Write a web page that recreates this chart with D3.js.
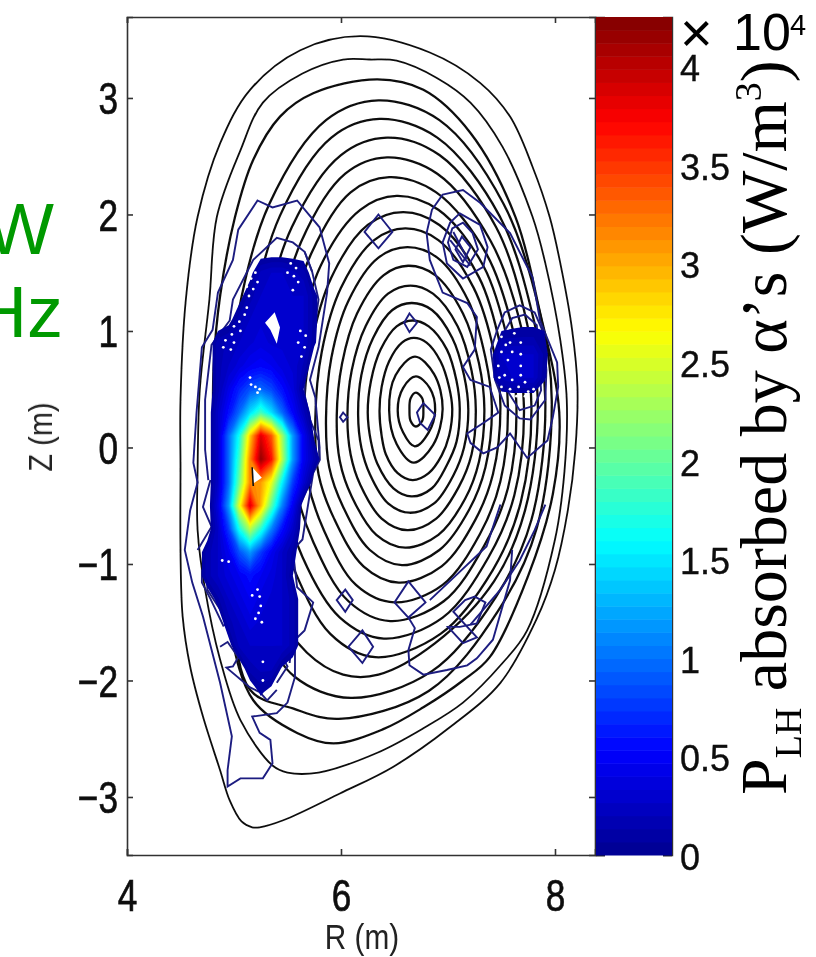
<!DOCTYPE html>
<html>
<head>
<meta charset="utf-8">
<script src="https://cdn.jsdelivr.net/npm/d3@7"></script>
<style>
  html, body { margin: 0; padding: 0; background: #fff; overflow: hidden; }
  text { font-family: "Liberation Sans", sans-serif; }
</style>
</head>
<body>
<div id="chart"></div>
<script>
// tick labels
var rTicks = [4, 6, 8];
var zTicks = [-3, -2, -1, 0, 1, 2, 3];
var cbarTicks = [0, 0.5, 1, 1.5, 2, 2.5, 3, 3.5, 4];
var cbarLabels = ["0", "0.5", "1", "1.5", "2", "2.5", "3", "3.5", "4"];

// flux surfaces [R, Z], outermost first
var flux1 = [[4.50,-.19],[4.50,.41],[4.55,1.27],[4.66,1.98],[4.87,2.61],[5.15,3.07],[5.62,3.41],[6.18,3.53],[6.83,3.39],[7.30,3.13],[7.58,2.84],[7.79,2.41],[7.95,1.98],[8.05,1.58],[8.16,1.01],[8.21,.52],[8.19,-.02],[8.12,-.54],[8.00,-1.05],[7.83,-1.47],[7.49,-2.02],[7.02,-2.40],[6.49,-2.74],[5.99,-2.97],[5.46,-3.20],[5.24,-3.26],[5.17,-3.26],[5.07,-3.21],[4.96,-3.03],[4.87,-2.77],[4.71,-2.31],[4.59,-1.88],[4.52,-1.45],[4.50,-.88]];
var flux2 = [[4.66,-.19],[4.68,.49],[4.77,1.27],[4.84,1.98],[5.06,2.55],[5.27,2.96],[5.64,3.21],[6.02,3.33],[6.27,3.33],[6.52,3.32],[6.90,3.17],[7.21,2.96],[7.51,2.58],[7.79,1.98],[7.91,1.58],[8.05,.92],[8.11,.41],[8.09,-.19],[8.00,-.79],[7.74,-1.57],[7.51,-1.85],[7.14,-2.19],[6.77,-2.41],[6.34,-2.62],[5.79,-2.79],[5.50,-2.79],[5.36,-2.73],[5.06,-2.34],[4.87,-1.82],[4.73,-1.22],[4.66,-.71]];
var flux3 = [[6.34,3.16],[6.77,3.07],[7.21,2.70],[7.63,1.98],[7.85,1.2],[8.04,.3],[7.98,-.4],[7.75,-1.1],[7.39,-1.80],[7.14,-2.0],[6.77,-2.23],[6.39,-2.42],[5.93,-2.54],[5.59,-2.45],[5.18,-2.17],[4.95,-1.5],[4.85,-.7],[4.81,.0],[4.81,.7],[4.87,1.3],[5.01,1.98],[5.18,2.47],[5.43,2.84],[5.74,3.04]];
var flux4 = [[6.35,2.98],[6.92,2.81],[7.52,2.09],[7.86,1.15],[7.97,.4],[7.83,-.69],[7.47,-1.40],[6.82,-2.09],[5.98,-2.33],[5.55,-2.24],[5.15,-2.08],[4.98,-1.2],[4.94,.2],[5.04,1.15],[5.33,2.09],[5.86,2.81]];
var flux5 = [[6.36,2.82],[6.90,2.66],[7.48,1.99],[7.80,1.10],[7.91,.4],[7.78,-.62],[7.45,-1.28],[6.85,-1.92],[6.09,-2.15],[5.57,-1.97],[5.3,-1.6],[5.1,-.9],[5.07,.25],[5.16,1.10],[5.43,1.99],[5.91,2.66]];
var flux6 = [[6.43,2.66],[6.92,2.51],[7.45,1.89],[7.74,1.06],[7.84,.35],[7.72,-.54],[7.43,-1.15],[6.88,-1.68],[6.35,-1.95],[6.02,-1.95],[5.68,-1.76],[5.35,-1.3],[5.22,-.6],[5.20,.2],[5.28,1.06],[5.54,1.89],[6.0,2.51]];
var flux7 = [[6.43,2.49],[6.90,2.35],[7.40,1.77],[7.69,1.01],[7.78,.35],[7.68,-.47],[7.42,-1.05],[6.93,-1.6],[6.32,-1.80],[5.9,-1.6],[5.54,-1.0],[5.36,-.5],[5.32,.2],[5.40,1.01],[5.63,1.77],[6.04,2.35]];
var flux8 = [[6.45,2.32],[6.89,2.19],[7.36,1.66],[7.62,.96],[7.71,.35],[7.62,-.41],[7.38,-.94],[6.95,-1.46],[6.40,-1.64],[5.99,-1.46],[5.64,-.94],[5.47,-.41],[5.43,.2],[5.50,.96],[5.72,1.66],[6.09,2.19]];
var flux9 = [[6.52,2.16],[6.91,2.04],[7.33,1.56],[7.56,.91],[7.64,.35],[7.56,-.35],[7.34,-.84],[6.96,-1.32],[6.46,-1.49],[6.07,-1.32],[5.74,-.81],[5.58,-.35],[5.54,.22],[5.61,.91],[5.81,1.56],[6.18,2.04]];
var flux10 = [[6.58,2.02],[6.92,1.91],[7.29,1.46],[7.49,.87],[7.56,.35],[7.49,-.29],[7.30,-.74],[6.95,-1.18],[6.50,-1.33],[6.14,-1.18],[5.84,-.71],[5.69,-.29],[5.65,.23],[5.72,.87],[5.91,1.46],[6.25,1.91]];
var flux11 = [[6.60,1.88],[6.91,1.78],[7.24,1.37],[7.43,.82],[7.49,.35],[7.42,-.23],[7.25,-.63],[6.94,-1.02],[6.54,-1.16],[6.21,-1.02],[5.93,-.60],[5.79,-.23],[5.76,.24],[5.82,.82],[6.0,1.37],[6.31,1.78]];
var flux12 = [[6.62,1.72],[6.90,1.63],[7.19,1.26],[7.35,.77],[7.41,.35],[7.35,-.17],[7.20,-.53],[6.92,-.88],[6.57,-1.01],[6.27,-.88],[6.02,-.51],[5.89,-.17],[5.86,.25],[5.91,.77],[6.07,1.26],[6.35,1.63]];
var flux13 = [[6.63,1.56],[6.88,1.48],[7.14,1.15],[7.29,.72],[7.34,.33],[7.29,-.12],[7.16,-.44],[6.91,-.75],[6.60,-.86],[6.33,-.75],[6.10,-.42],[5.99,-.12],[5.96,.26],[6.01,.72],[6.15,1.15],[6.40,1.48]];
var flux14 = [[6.65,1.39],[6.86,1.32],[7.09,1.04],[7.22,.66],[7.26,.32],[7.22,-.06],[7.10,-.34],[6.89,-.61],[6.62,-.71],[6.38,-.61],[6.18,-.32],[6.09,-.06],[6.06,.27],[6.10,.66],[6.23,1.04],[6.44,1.32]];
var flux15 = [[6.66,1.24],[6.85,1.18],[7.04,.94],[7.15,.62],[7.19,.32],[7.15,0],[7.05,-.24],[6.87,-.48],[6.64,-.56],[6.44,-.48],[6.27,-.23],[6.19,0],[6.16,.28],[6.19,.62],[6.30,.94],[6.48,1.18]];
var flux16 = [[6.67,1.09],[6.82,1.04],[6.99,.84],[7.08,.57],[7.11,.33],[7.08,.05],[6.99,-.15],[6.85,-.35],[6.66,-.42],[6.49,-.35],[6.34,-.14],[6.28,.05],[6.25,.3],[6.28,.57],[6.37,.84],[6.52,1.04]];
var flux17 = [[6.68,.94],[6.80,.90],[6.93,.74],[7.01,.52],[7.04,.33],[7.01,.10],[6.94,-.07],[6.82,-.22],[6.67,-.28],[6.53,-.22],[6.42,-.06],[6.38,.10],[6.36,.31],[6.38,.52],[6.45,.74],[6.57,.90]];
var flux18 = [[6.69,.78],[6.87,.63],[6.95,.33],[6.86,.02],[6.68,-.13],[6.52,.03],[6.45,.32],[6.51,.62]];
var flux19 = [[6.70,.61],[6.83,.51],[6.88,.32],[6.82,.13],[6.69,.01],[6.58,.13],[6.53,.32],[6.58,.51]];
var flux20 = [[6.70,.47],[6.76,.42],[6.77,.32],[6.76,.23],[6.70,.18],[6.65,.23],[6.64,.32],[6.65,.42]];
var fluxSurfaces = [flux1,flux2,flux3,flux4,flux5,flux6,flux7,flux8,flux9,flux10,flux11,flux12,flux13,flux14,flux15,flux16,flux17,flux18,flux19,flux20];

// absorbed power grid, units of 10^4 W/m3, rows top to bottom
var mainR0 = 4.55, mainDR = 0.1, mainZ0 = 1.7, mainDZ = -0.2;
var mainPower = [
  [0,0,0,0,0,0,0,0,0,0,0,0,0,0,0],
  [0,0,0,0,0,0,.05,.25,.3,.3,.25,.2,0,0,0],
  [0,0,0,0,0,.05,.2,.3,.3,.3,.3,.3,.14,0,0],
  [0,0,0,0,.05,.2,.3,.35,.35,.35,.3,.3,.14,0,0],
  [0,0,0,.2,.25,.3,.35,.4,.35,.35,.3,.3,.12,0,0],
  [0,0,0,.2,.3,.4,.5,.55,.5,.4,.35,.22,0,0,0],
  [0,0,0,.2,.45,.7,.9,1.0,.85,.6,.4,.1,0,0,0],
  [0,0,0,.3,.6,1.0,1.5,1.9,1.5,1.0,.55,.25,0,0,0],
  [0,0,0,.3,1.0,1.7,2.9,3.9,3.4,2.3,1.2,.5,.08,0,0],
  [0,0,0,.3,1.0,1.9,3.2,4.2,3.7,2.4,1.2,.5,.2,0,0],
  [0,0,0,.3,1.0,2.1,3.2,3.1,2.6,1.6,.8,.35,0,0,0],
  [0,0,0,.4,1.2,2.6,3.9,3.0,2.0,1.1,.5,0,0,0,0],
  [0,0,0,.3,.8,1.7,2.4,1.8,1.1,.6,.3,0,0,0,0],
  [0,0,.2,.3,.5,.9,1.2,.8,.5,.3,.15,0,0,0,0],
  [0,0,.2,.3,.4,.5,.6,.5,.4,.3,.1,0,0,0,0],
  [0,0,0,.15,.3,.4,.5,.4,.35,.3,.2,0,0,0,0],
  [0,0,0,0,.2,.3,.4,.35,.3,.3,.2,0,0,0,0],
  [0,0,0,0,.05,.25,.3,.3,.3,.3,.2,0,0,0,0],
  [0,0,0,0,0,0,.2,.25,.25,.08,0,0,0,0,0],
  [0,0,0,0,0,0,0,.12,.05,0,0,0,0,0,0],
  [0,0,0,0,0,0,0,0,0,0,0,0,0,0,0]
];
var lobeR0 = 7.4, lobeDR = 0.1, lobeZ0 = 1.2, lobeDZ = -0.2;
var lobePower = [
  [0,0,0,0,0,0,0],
  [0,.1,.11,.12,.12,.1,0],
  [.05,.3,.3,.3,.3,.15,0],
  [.05,.25,.3,.3,.3,.12,0],
  [0,0,0,0,0,0,0],
  [0,0,0,0,0,0,0]
];

// low level contours, closed rings [R, Z]
var navyRings = [
  [[5.22,2.12],[5.36,2.06],[5.59,2.12],[5.69,2.01],[5.80,1.89],[5.89,1.58],[5.87,1.33],[5.79,.86],[5.71,.58],[5.76,.43],[5.80,.0],[5.80,-.11],[5.74,-.22],[5.64,-.79],[5.55,-.88],[5.59,-1.20],[5.74,-1.33],[5.66,-1.57],[5.57,-1.65],[5.57,-1.97],[5.50,-2.19],[5.40,-2.28],[5.17,-2.31],[5.24,-2.45],[5.34,-2.51],[5.36,-2.71],[5.27,-2.84],[5.06,-2.84],[4.94,-2.91],[4.94,-2.77],[4.98,-2.48],[4.87,-2.02],[4.71,-1.45],[4.61,-1.16],[4.54,-.88],[4.59,-.54],[4.66,-.30],[4.62,-.13],[4.65,.30],[4.70,.86],[4.80,1.01],[4.85,1.33],[4.99,1.61],[5.04,1.87]],
  [[6.95,2.17],[7.14,2.21],[7.30,2.10],[7.58,1.84],[7.79,1.46],[7.86,1.09],[8.02,.73],[8.03,.52],[7.98,.26],[7.93,.06],[7.74,-.09],[7.58,.12],[7.46,.0],[7.33,-.05],[7.21,.04],[7.18,.12],[7.33,.21],[7.47,.30],[7.39,.52],[7.21,.58],[7.14,.69],[7.25,.84],[7.27,1.12],[7.18,1.24],[6.95,1.33],[6.83,1.61],[6.80,1.84],[6.85,2.04]],
  [[7.11,2.01],[7.30,1.91],[7.37,1.72],[7.33,1.55],[7.14,1.45],[6.99,1.58],[6.95,1.76],[7.02,1.93]],
  [[7.14,1.93],[7.23,1.84],[7.28,1.70],[7.18,1.55],[7.05,1.61],[7.00,1.76],[7.04,1.88]],
  [[7.13,1.81],[7.21,1.72],[7.14,1.59],[7.07,1.70]],
  [[7.46,1.01],[7.53,1.16],[7.67,1.22],[7.81,1.16],[7.88,1.01],[7.92,.67],[7.91,.41],[7.77,.24],[7.67,.25],[7.53,.36],[7.44,.58],[7.40,.84]],
  [[7.51,.97],[7.60,1.11],[7.72,1.14],[7.83,1.05],[7.87,.49],[7.81,.36],[7.67,.32],[7.58,.45],[7.47,.6]],
  [[6.63,-1.15],[6.79,-1.33],[6.63,-1.46],[6.50,-1.33]],
  [[6.04,-1.22],[6.11,-1.31],[6.04,-1.41],[5.96,-1.31]],
  [[6.20,-1.57],[6.30,-1.71],[6.20,-1.85],[6.07,-1.71]],
  [[7.25,-1.28],[7.35,-1.33],[7.27,-1.51],[7.11,-1.54],[7.0,-1.54],[7.14,-1.68],[7.27,-1.63],[7.05,-1.41],[7.16,-1.31]],
  [[6.35,2.0],[6.48,1.85],[6.35,1.71],[6.22,1.85]],
  [[6.64,1.15],[6.71,1.07],[6.64,.99],[6.59,1.07]],
  [[6.77,.38],[6.88,.28],[6.81,.15],[6.74,.21],[6.71,.30]],
  [[6.02,.3],[6.06,.26],[6.02,.22],[5.99,.26]],
  [[4.70,-1.07],[4.80,-1.22],[4.94,-1.33],[4.96,-1.50],[4.90,-1.53],[4.78,-1.30],[4.70,-1.16]],
  [[4.75,-1.12],[4.90,-1.31],[4.87,-1.39],[4.75,-1.22]]
];
// open contour pieces
var navyOpen = [
  [[5.73,1.51],[5.66,1.68],[5.55,1.76],[5.40,1.80],[5.18,1.61],[4.99,1.27],[4.96,1.09],[4.79,.88],[4.73,.41],[4.73,-.02],[4.76,-.28]],
  [[5.66,1.68],[5.73,1.51],[5.79,1.27],[5.73,.88],[5.66,.62],[5.66,.45],[5.71,.24],[5.79,.06],[5.80,-.11]],
  [[4.78,-.28],[4.71,-.51],[4.79,-.68],[4.66,-.88]],
  [[5.50,-.85],[5.43,-.97],[5.46,-1.16],[5.54,-1.24]],
  [[5.66,-.25],[5.60,-.38],[5.64,-.45],[5.71,-.30]],
  [[4.87,-1.71],[4.94,-1.67],[5.04,-1.80],[4.99,-1.88],[4.93,-1.89],[5.15,-2.06],[5.24,-2.10],[5.31,-2.17],[5.40,-2.08]],
  [[5.48,-1.65],[5.43,-1.76],[5.50,-1.88],[5.40,-2.02]],
  [[5.54,-1.65],[5.52,-1.85]],
  [[6.63,-1.46],[6.69,-1.55],[6.63,-1.74],[6.64,-1.87],[6.77,-1.95],[6.99,-1.91],[7.18,-1.87],[7.27,-1.81],[7.42,-1.65],[7.58,-1.14],[7.60,-.88]],
  [[6.83,-1.31],[7.36,-.85],[7.49,-.49]],
  [[7.91,-.49],[7.81,-.71],[7.67,-.97],[7.49,-1.22],[7.21,-1.52]],
  [[7.02,1.78],[7.21,1.56]],
  [[7.05,1.85],[7.18,1.62]]
];

// holes in the filled field
var holes = [
  [[5.38,1.16],[5.43,1.03],[5.40,.89],[5.34,1.01],[5.29,1.07],[5.34,1.12]],
  [[5.17,-.17],[5.26,-.26],[5.18,-.31]]
];
var specks = [[5.1,1.14],[5.05,1.08],[5.0,1.04],[5.06,1.0],[4.98,.97],[4.92,.92],[5.0,.9],[4.9,.86],[4.97,.84],[5.12,1.2],[5.2,1.5],[5.16,1.45],[5.22,1.42],[5.12,1.38],[5.18,1.36],[5.14,1.3],[5.53,1.58],[5.58,1.54],[5.5,1.5],[5.56,1.47],[5.6,1.42],[5.15,.6],[5.16,.54],[5.2,.52],[5.24,.5],[5.22,.47],[5.22,-1.22],[5.24,-1.28],[5.17,-1.27],[5.25,-1.36],[5.23,-1.42],[5.2,-1.47],[5.26,-1.5],[4.89,-.97],[4.95,-.98],[5.27,-1.84],[5.27,-2.0],[5.62,1.0],[5.67,.96],[5.6,.9],[5.66,.86],[5.63,.78],[5.55,1.35],[7.5,.95],[7.58,.9],[7.62,.98],[7.5,.82],[7.56,.75],[7.47,.7],[7.53,.62],[7.6,.58],[7.5,.52],[7.58,.5],[7.66,.52],[7.72,.56],[7.64,.44],[7.72,.44],[7.8,.5],[7.6,.82],[7.68,.7],[7.68,.9],[7.68,.8],[7.54,.88],[7.48,.6],[7.75,.48],[7.68,.62]];

// jet colormap stops
var jetStops = [0, 0.125, 0.375, 0.625, 0.875, 1];
var jetColors = ["#00008f", "#0000ff", "#00ffff", "#ffff00", "#ff0000", "#800000"];

var margin = {top: 17, left: 127, bottom: 855, right: 595};
var cbarLeft = 596, cbarRight = 672;

var svg = d3.select("#chart").append("svg")
    .attr("width", 816)
    .attr("height", 957);

var defs = svg.append("defs");
defs.append("filter").attr("id", "soft")
    .append("feGaussianBlur").attr("stdDeviation", 0.45);

var x = d3.scaleLinear().domain([4, 8.374]).range([margin.left, margin.right]);
var y = d3.scaleLinear().domain([-3.498, 3.695]).range([margin.bottom, margin.top]);
var cScale = d3.scaleLinear().domain([0, 4.25]).range([margin.bottom, margin.top]);

var jet = d3.scaleLinear()
    .domain(jetStops.map(function(d) { return d * 4.25; }))
    .range(jetColors);

var plot = svg.append("g").attr("filter", "url(#soft)");

var smooth = d3.line()
    .x(function(d) { return x(d[0]); })
    .y(function(d) { return y(d[1]); })
    .curve(d3.curveCatmullRomClosed.alpha(0.5));
var ringLine = d3.line()
    .x(function(d) { return x(d[0]); })
    .y(function(d) { return y(d[1]); })
    .curve(d3.curveLinearClosed);
var openLine = d3.line()
    .x(function(d) { return x(d[0]); })
    .y(function(d) { return y(d[1]); });

// black flux surfaces
plot.selectAll(".flux")
    .data(fluxSurfaces)
  .enter().append("path")
    .attr("class", "flux")
    .attr("d", smooth)
    .attr("fill", "none")
    .attr("stroke", "#111")
    .attr("stroke-width", function(d, i) { return i < 2 ? 1.8 : 2.3; });

// navy contours
plot.selectAll(".ring")
    .data(navyRings)
  .enter().append("path")
    .attr("class", "ring")
    .attr("d", ringLine)
    .attr("fill", "none")
    .attr("stroke", "#1c1c80")
    .attr("stroke-width", 1.9);
plot.selectAll(".open")
    .data(navyOpen)
  .enter().append("path")
    .attr("class", "open")
    .attr("d", openLine)
    .attr("fill", "none")
    .attr("stroke", "#1c1c80")
    .attr("stroke-width", 1.9);

// filled power field, 64 colour levels
var levels = d3.range(64).map(function(i) { return 0.1 + i * 4.25 / 64; });

function drawField(grid, r0, dr, z0, dz) {
  var rows = grid.length, cols = grid[0].length;
  var flat = [].concat.apply([], grid);
  var contours = d3.contours().size([cols, rows]).thresholds(levels)(flat);
  var path = d3.geoPath(d3.geoTransform({
    point: function(px, py) {
      this.stream.point(x(r0 + (px - 0.5) * dr), y(z0 + (py - 0.5) * dz));
    }
  }));
  plot.append("g").selectAll("path")
      .data(contours)
    .enter().append("path")
      .attr("d", path)
      .attr("fill", function(d) { return jet(d.value); });
}
drawField(mainPower, mainR0, mainDR, mainZ0, mainDZ);
drawField(lobePower, lobeR0, lobeDR, lobeZ0, lobeDZ);

// holes and specks where nothing was drawn
plot.selectAll(".hole")
    .data(holes)
  .enter().append("path")
    .attr("class", "hole")
    .attr("d", ringLine)
    .attr("fill", "#fff");
plot.append("path")
    .datum([[5.17,-.17],[5.18,-.33]])
    .attr("d", openLine)
    .attr("fill", "none")
    .attr("stroke", "#111")
    .attr("stroke-width", 1.6);
plot.selectAll(".speck")
    .data(specks)
  .enter().append("circle")
    .attr("class", "speck")
    .attr("cx", function(d) { return x(d[0]); })
    .attr("cy", function(d) { return y(d[1]); })
    .attr("r", 1.4)
    .attr("fill", "#fff");

// axes box and ticks
var axisColor = "#333";
var soft = svg.append("g").attr("filter", "url(#soft)");

var gLeft = soft.append("g")
    .attr("transform", "translate(" + margin.left + ",0)")
    .call(d3.axisLeft(y).tickValues(zTicks).tickSize(-6).tickPadding(9));
var gRight = soft.append("g")
    .attr("transform", "translate(" + margin.right + ",0)")
    .call(d3.axisRight(y).tickValues(zTicks).tickSize(-6).tickFormat(""));
var gBottom = soft.append("g")
    .attr("transform", "translate(0," + margin.bottom + ")")
    .call(d3.axisBottom(x).tickValues(rTicks).tickSize(-6).tickPadding(25).tickFormat(d3.format("d")));
var gTop = soft.append("g")
    .attr("transform", "translate(0," + margin.top + ")")
    .call(d3.axisTop(x).tickValues(rTicks).tickSize(-6).tickFormat(""));

[gLeft, gRight, gBottom, gTop].forEach(function(g) {
  g.selectAll(".domain").attr("stroke", axisColor).attr("stroke-width", 1.6);
  g.selectAll(".tick line").attr("stroke", axisColor).attr("stroke-width", 1.6);
});

// the picture is squeezed sideways, so the digits are too
gLeft.selectAll("text")
    .attr("x", 0)
    .attr("dy", "0.36em")
    .attr("transform", "translate(-9,0) scale(0.8,1)")
    .style("font-size", "44px")
    .attr("fill", "#111")
    .attr("stroke", "#111")
    .attr("stroke-width", 0.7);
gBottom.selectAll("text")
    .attr("y", 0)
    .attr("dy", "0.71em")
    .attr("transform", "translate(0,25) scale(0.8,1)")
    .style("font-size", "44px")
    .attr("fill", "#111")
    .attr("stroke", "#111")
    .attr("stroke-width", 0.7);

// axis titles
soft.append("text")
    .attr("transform", "translate(362,949) scale(0.85,1)")
    .attr("text-anchor", "middle")
    .style("font-size", "35px")
    .attr("fill", "#222")
    .text("R (m)");
soft.append("text")
    .attr("transform", "translate(52,437) rotate(-90) scale(0.85,1)")
    .attr("text-anchor", "middle")
    .style("font-size", "34px")
    .attr("fill", "#222")
    .text("Z (m)");

// colorbar, 64 bands
var bands = d3.range(64);
var bandY = d3.scaleBand().domain(bands).range([margin.bottom, margin.top]);
var cbar = svg.append("g");
cbar.selectAll("rect")
    .data(bands)
  .enter().append("rect")
    .attr("x", cbarLeft)
    .attr("y", function(d) { return bandY(d); })
    .attr("width", cbarRight - cbarLeft)
    .attr("height", bandY.bandwidth() + 0.5)
    .attr("fill", function(d) { return jet((d + 0.5) * 4.25 / 64); });

var gCbar = soft.append("g")
    .attr("transform", "translate(" + cbarRight + ",0)")
    .call(d3.axisRight(cScale).tickValues(cbarTicks).tickSize(-9).tickPadding(8)
      .tickFormat(function(d, i) { return cbarLabels[i]; }));
var gCbarL = soft.append("g")
    .attr("transform", "translate(" + cbarLeft + ",0)")
    .call(d3.axisLeft(cScale).tickValues(cbarTicks).tickSize(-9).tickFormat(""));
[gCbar, gCbarL].forEach(function(g) {
  g.selectAll(".domain").attr("stroke", axisColor).attr("stroke-width", 1.4);
  g.selectAll(".tick line").attr("stroke", "#222").attr("stroke-width", 1.6);
});
gCbar.selectAll("text")
    .style("font-size", "36px")
    .attr("fill", "#111")
    .attr("stroke", "#111")
    .attr("stroke-width", 0.4)
    .attr("dy", "0.4em");

// multiplier
svg.append("text").attr("x", 680).attr("y", 52)
    .style("font-size", "56px").attr("fill", "#000").text("\u00d7");
svg.append("text").attr("x", 733).attr("y", 50)
    .style("font-size", "52px").attr("fill", "#000").text("10");
svg.append("text").attr("x", 790).attr("y", 35)
    .style("font-size", "29px").attr("fill", "#000").text("4");

// colorbar title
var title = svg.append("text")
    .attr("transform", "translate(786,795) rotate(-90)")
    .style("font-family", "'Liberation Serif', serif")
    .style("font-size", "66px")
    .attr("fill", "#000");
title.append("tspan").text("P");
title.append("tspan").attr("dy", 15).style("font-size", "38px").text("LH");
title.append("tspan").attr("dy", -15).text(" absorbed by ");
title.append("tspan").text("\u03b1");
title.append("tspan").text("\u2019s (W/m");
title.append("tspan").attr("dy", -25).style("font-size", "38px").text("3");
title.append("tspan").attr("dy", 25).text(")");

// green annotation, cut off by the left edge of the page
svg.append("text").attr("x", 54).attr("y", 254).attr("text-anchor", "end")
    .style("font-size", "72px").attr("fill", "#009900").text("W");
svg.append("text").attr("x", 63).attr("y", 337).attr("text-anchor", "end")
    .style("font-size", "72px").attr("fill", "#009900").text("Hz");
</script>
</body>
</html>
